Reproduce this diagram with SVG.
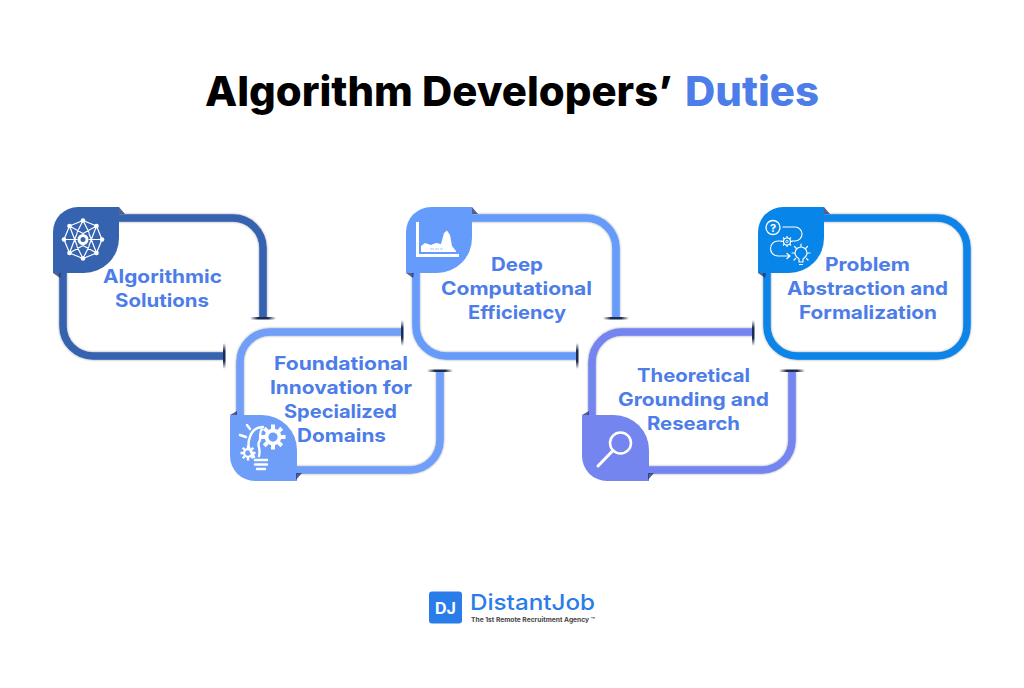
<svg xmlns="http://www.w3.org/2000/svg" width="1024" height="688" viewBox="0 0 1024 688">
<style>
text{font-family:"Inter","Liberation Sans",sans-serif;font-weight:700}
.t{font-size:41px;font-weight:800}
.l{font-size:18.5px;fill:#4d7de8}
.f{fill:none;stroke-width:7.5;filter:url(#sh)}
.w{fill:#fff;stroke:none}
.s{fill:none;stroke:#fff;stroke-width:1.2;stroke-linecap:round;stroke-linejoin:round}
.s2{fill:none;stroke:#fff;stroke-width:2.4;stroke-linecap:round;stroke-linejoin:round}
.fold{fill:#1f2f66;opacity:.75}
.h{fill:url(#th)}
.v{fill:url(#tv)}
</style>
<defs>
<filter id="sh" x="-10%" y="-10%" width="120%" height="120%"><feDropShadow dx="0" dy="0" stdDeviation="0.8" flood-color="#333" flood-opacity="0.5"/></filter>
<linearGradient id="th"><stop offset="0" stop-color="#1c2c50" stop-opacity="0"/><stop offset=".3" stop-color="#1c2c50"/><stop offset=".7" stop-color="#1c2c50"/><stop offset="1" stop-color="#1c2c50" stop-opacity="0"/></linearGradient>
<linearGradient id="tv" x2="0" y2="1"><stop offset="0" stop-color="#1c2c50" stop-opacity="0"/><stop offset=".3" stop-color="#1c2c50"/><stop offset=".7" stop-color="#1c2c50"/><stop offset="1" stop-color="#1c2c50" stop-opacity="0"/></linearGradient>
<g id="gear"><circle r="5.2" fill="none" stroke="#fff" stroke-width="3"/><path d="M0-10V-6M0 6V10M-10 0H-6M6 0H10M-7-7L-4.500-4.500M4.500 4.500L7 7M-7 7L-4.500 4.500M4.500-4.500L7-7" stroke="#fff" stroke-width="3.200"/></g>
</defs>
<rect width="1024" height="688" fill="#fff"/>
<text class="t" x="205" y="106" textLength="467" lengthAdjust="spacingAndGlyphs" fill="#000">Algorithm Developers’</text>
<text class="t" x="685" y="106" textLength="134" lengthAdjust="spacingAndGlyphs" fill="#4d7de8">Duties</text>

<g id="node-1">
<path class="f" stroke="#3563b0" d="M263 318V248A30 30 0 0 0 233 218H93A30 30 0 0 0 63 248V326A30 30 0 0 0 93 356H224"/>
<path fill="#3563b0" d="M78 207H119V238A35 35 0 0 1 84 273H53V232A25 25 0 0 1 78 207Z"/>
<path class="fold" d="M119 207L125 214H119ZM53 273H61L60 278Z"/>
<g transform="translate(83 239.5)">
<path class="s" d="M0-19L13.5-13.5L19 0L13.5 13.5L0 19L-13.5 13.5L-19 0L-13.5-13.5ZM0-19L-6-7M0-19L6-7M19 0H6M-19 0H-6M0 19L-6 7M0 19L6 7M-13.5-13.5L0-6L13.5-13.5M-13.5 13.5L0 6L13.5 13.5M-13.5-13.5L-6 6M13.5-13.5L6 6M-13.5 13.5L-6-6M13.5 13.5L6-6"/>
<circle r="4" fill="none" stroke="#fff" stroke-width="3"/>
<g class="w"><circle cy="-19" r="2.3"/><circle cx="13.5" cy="-13.5" r="2.3"/><circle cx="19" r="2.3"/><circle cx="13.5" cy="13.5" r="2.3"/><circle cy="19" r="2.3"/><circle cx="-13.5" cy="13.5" r="2.3"/><circle cx="-19" r="2.3"/><circle cx="-13.5" cy="-13.5" r="2.3"/></g>
</g>
<text class="l" x="103" y="283" textLength="119" lengthAdjust="spacingAndGlyphs">Algorithmic</text>
<text class="l" x="115" y="307" textLength="94" lengthAdjust="spacingAndGlyphs">Solutions</text>
</g>

<g id="node-2">
<path class="f" stroke="#6f9ef8" d="M402 332H270A30 30 0 0 0 240 362V440A30 30 0 0 0 270 470H410A30 30 0 0 0 440 440V371"/>
<path fill="#6f9ef8" d="M230 415H262A35 35 0 0 1 297 450V481H255A25 25 0 0 1 230 456Z"/>
<path class="fold" d="M230 415L237 411V415ZM296 473H302L296 480Z"/>
<use href="#gear" transform="translate(273 437) scale(1.25)"/>
<use href="#gear" transform="translate(248 453) scale(.75)"/>
<path class="s2" d="M254 457C252 452 247 449 249 440C251 431 256 427 263 427M240 435L246 437M247 425L250 429M262 429C258 434 262 438 259 442C257 445 261 449 259 456"/>
<path class="s2" d="M255 460H267M255 464.500H267M257 469H265"/>
<text class="l" x="274" y="370" textLength="134" lengthAdjust="spacingAndGlyphs">Foundational</text>
<text class="l" x="270" y="394" textLength="142" lengthAdjust="spacingAndGlyphs">Innovation for</text>
<text class="l" x="284" y="418" textLength="113" lengthAdjust="spacingAndGlyphs">Specialized</text>
<text class="l" x="297" y="442" textLength="89" lengthAdjust="spacingAndGlyphs">Domains</text>
</g>

<g id="node-3">
<path class="f" stroke="#659bfb" d="M616 318V248A30 30 0 0 0 586 218H446A30 30 0 0 0 416 248V326A30 30 0 0 0 446 356H577"/>
<path fill="#659bfb" d="M431 207H472V238A35 35 0 0 1 437 273H406V232A25 25 0 0 1 431 207Z"/>
<path class="fold" d="M472 207L478 214H472ZM406 273H414L413 278Z"/>
<path class="w" d="M416 222H419V254H459V257H416Z"/>
<path class="w" d="M421 252V246L425 243L431 245L436 243L441 244L444 233L447 230.500L450 235L452 246L456 251V252Z"/>
<path d="M430 249H443" stroke="#a9c6fb" stroke-width="1" stroke-dasharray="4 1"/>
<text class="l" x="491" y="271" textLength="52" lengthAdjust="spacingAndGlyphs">Deep</text>
<text class="l" x="441" y="295" textLength="151" lengthAdjust="spacingAndGlyphs">Computational</text>
<text class="l" x="468" y="319" textLength="98" lengthAdjust="spacingAndGlyphs">Efficiency</text>
</g>

<g id="node-4">
<path class="f" stroke="#7485f0" d="M753 332H622A30 30 0 0 0 592 362V440A30 30 0 0 0 622 470H762A30 30 0 0 0 792 440V371"/>
<path fill="#7485f0" d="M582 415H614A35 35 0 0 1 649 450V481H607A25 25 0 0 1 582 456Z"/>
<path class="fold" d="M582 415L589 411V415ZM648 473H654L648 480Z"/>
<circle cx="620.500" cy="443" r="10.500" fill="none" stroke="#fff" stroke-width="2.500"/>
<path d="M613 450.500L598 466" stroke="#fff" stroke-width="3" stroke-linecap="round"/>
<text class="l" x="637" y="382" textLength="113" lengthAdjust="spacingAndGlyphs">Theoretical</text>
<text class="l" x="618" y="406" textLength="151" lengthAdjust="spacingAndGlyphs">Grounding and</text>
<text class="l" x="647" y="430" textLength="93" lengthAdjust="spacingAndGlyphs">Research</text>
</g>

<g id="node-5">
<rect class="f" stroke="#0885e8" x="767" y="218" width="200" height="138" rx="30"/>
<path fill="#0885e8" d="M783 207H824V238A35 35 0 0 1 789 273H758V232A25 25 0 0 1 783 207Z"/>
<path class="fold" d="M824 207L830 214H824ZM758 273H766L765 278Z"/>
<circle cx="773" cy="227.500" r="7" fill="none" stroke="#fff" stroke-width="1.300"/>
<text x="773" y="231.500" text-anchor="middle" font-size="11" fill="#fff">?</text>
<path class="s" d="M783 227H795A7 7 0 0 1 795 241H792M782 241H778A7 7 0 0 0 778 256H789M787 253.500L790 256L787 258.500"/>
<g transform="translate(787 241.500)"><circle r="3.500" fill="none" stroke="#fff" stroke-width="1.200"/><circle r="1.200" fill="none" stroke="#fff" stroke-width=".8"/><path d="M0-5.500V-3.500M0 3.500V5.500M-5.500 0H-3.500M3.500 0H5.500M-4-4L-2.500-2.500M2.500 2.500L4 4M-4 4L-2.500 2.500M2.500-2.500L4-4" stroke="#fff" stroke-width="1.200"/></g>
<path class="s" d="M799 262V259C796 257 795 255 795 253A6 6 0 0 1 807 253C807 255 806 257 803 259V262ZM799.500 264.500H802.500M801 247V244M792 253H794M808 253H810M794.500 246.500L796 248M807.500 246.500L806 248M794 260L795.500 258.500M808 260L806.500 258.500"/>
<text class="l" x="825" y="271" textLength="85" lengthAdjust="spacingAndGlyphs">Problem</text>
<text class="l" x="787" y="295" textLength="161" lengthAdjust="spacingAndGlyphs">Abstraction and</text>
<text class="l" x="799" y="319" textLength="138" lengthAdjust="spacingAndGlyphs">Formalization</text>
</g>

<g id="connectors">
<rect class="h" x="250" y="317" width="26" height="2.500"/>
<rect class="v" x="223" y="343" width="2.500" height="26"/>
<rect class="v" x="401" y="320" width="2.500" height="26"/>
<rect class="h" x="427" y="369.500" width="26" height="2.500"/>
<rect class="h" x="603" y="317" width="26" height="2.500"/>
<rect class="v" x="576" y="343" width="2.500" height="26"/>
<rect class="v" x="752" y="320" width="2.500" height="26"/>
<rect class="h" x="779" y="369.500" width="26" height="2.500"/>
</g>

<g id="logo">
<rect x="429" y="591.500" width="33" height="32" rx="3" fill="#2a7de9"/>
<text x="445.500" y="613.500" text-anchor="middle" font-size="16" font-weight="800" fill="#fff">DJ</text>
<text x="470" y="610" font-size="22" textLength="125" lengthAdjust="spacingAndGlyphs" style="font-weight:500" fill="#2a7de9">DistantJob</text>
<text x="471" y="622" font-size="6.500" textLength="124" lengthAdjust="spacingAndGlyphs" fill="#444">The 1st Remote Recruitment Agency ™</text>
</g>
</svg>
